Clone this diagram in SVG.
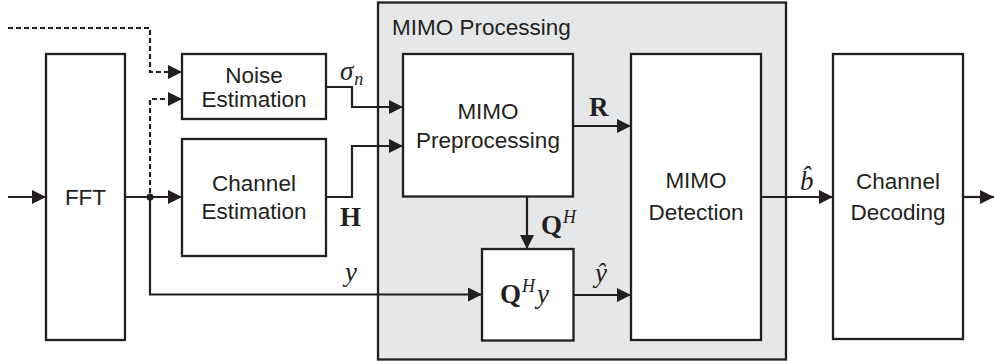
<svg xmlns="http://www.w3.org/2000/svg" width="994" height="361" viewBox="0 0 994 361">
<defs>
<marker id="arr" markerUnits="userSpaceOnUse" markerWidth="15" markerHeight="15" refX="14" refY="7" orient="auto">
<path d="M0,0 L14,7 L0,14 z" fill="#231f20"/>
</marker>
<style>
.box{fill:#fff;stroke:#231f20;stroke-width:2.3}
.grp{fill:#e6e7e9;stroke:#231f20;stroke-width:2.3}
.ln{fill:none;stroke:#231f20;stroke-width:2.2}
.dash{stroke-dasharray:5,3}
.lbl{font-family:"Liberation Sans",Arial,sans-serif;font-size:22.5px;fill:#231f20;text-anchor:middle}
.mb{font-family:"Liberation Serif","Times New Roman",serif;font-weight:bold;font-size:27px;fill:#231f20}
.mi{font-family:"Liberation Serif","Times New Roman",serif;font-style:italic;font-size:27px;fill:#231f20}
.sup{font-family:"Liberation Serif","Times New Roman",serif;font-style:italic;font-size:18px;fill:#231f20}
</style>
</defs>
<g id="mimo-processing">
<rect class="grp" x="378" y="2.5" width="408" height="357"/>
<text class="lbl" x="392" y="35" style="text-anchor:start">MIMO Processing</text>
</g>
<g id="fft">
<rect class="box" x="46" y="54" width="79" height="286"/>
<text class="lbl" x="85.5" y="205">FFT</text>
</g>
<g id="noise-estimation">
<rect class="box" x="182" y="54" width="144" height="65"/>
<text class="lbl" x="254" y="82.5">Noise</text>
<text class="lbl" x="254" y="106.5">Estimation</text>
</g>
<g id="channel-estimation">
<rect class="box" x="182" y="139" width="144" height="117"/>
<text class="lbl" x="254" y="190.5">Channel</text>
<text class="lbl" x="254" y="219">Estimation</text>
</g>
<g id="mimo-preprocessing">
<rect class="box" x="403" y="54" width="170" height="142.5"/>
<text class="lbl" x="488" y="119">MIMO</text>
<text class="lbl" x="488" y="148">Preprocessing</text>
</g>
<g id="qhy">
<rect class="box" x="482" y="249" width="91.5" height="91.5"/>
<text x="500" y="303"><tspan class="mb">Q</tspan><tspan class="sup" dy="-11" dx="1">H</tspan><tspan class="mi" dy="11" dx="2">y</tspan></text>
</g>
<g id="mimo-detection">
<rect class="box" x="631" y="54" width="130" height="286"/>
<text class="lbl" x="696" y="188">MIMO</text>
<text class="lbl" x="696" y="220">Detection</text>
</g>
<g id="channel-decoding">
<rect class="box" x="833" y="54" width="130" height="285"/>
<text class="lbl" x="898" y="189">Channel</text>
<text class="lbl" x="898" y="220">Decoding</text>
</g>
<g id="connectors">
<path class="ln" d="M8,197 H46" marker-end="url(#arr)"/>
<path class="ln" d="M125,197 H182" marker-end="url(#arr)"/>
<path class="ln" d="M150,197 V294.5 H482" marker-end="url(#arr)"/>
<path class="ln dash" d="M8,28 H150 V72 H182" marker-end="url(#arr)"/>
<path class="ln dash" d="M150,193 V99 H182" marker-end="url(#arr)"/>
<circle cx="150" cy="197" r="3.5" fill="#231f20"/>
<path class="ln" d="M326,87 H352 V107 H403" marker-end="url(#arr)"/>
<path class="ln" d="M326,197 H352 V146 H403" marker-end="url(#arr)"/>
<path class="ln" d="M573,126 H631" marker-end="url(#arr)"/>
<path class="ln" d="M527,196.5 V249" marker-end="url(#arr)"/>
<path class="ln" d="M573.5,295 H631" marker-end="url(#arr)"/>
<path class="ln" d="M761,197 H833" marker-end="url(#arr)"/>
<path class="ln" d="M963,197 H994" marker-end="url(#arr)"/>
<text x="340" y="80"><tspan class="mi">σ</tspan><tspan class="sup" dy="5" dx="1">n</tspan></text>
<text class="mb" x="340" y="226">H</text>
<text class="mb" x="589" y="116">R</text>
<text x="541" y="234"><tspan class="mb">Q</tspan><tspan class="sup" dy="-11" dx="1">H</tspan></text>
<text class="mi" x="345" y="281">y</text>
<text class="mi" x="595" y="282">ŷ</text>
<text class="mi" x="800" y="190">b̂</text>
</g>
</svg>
